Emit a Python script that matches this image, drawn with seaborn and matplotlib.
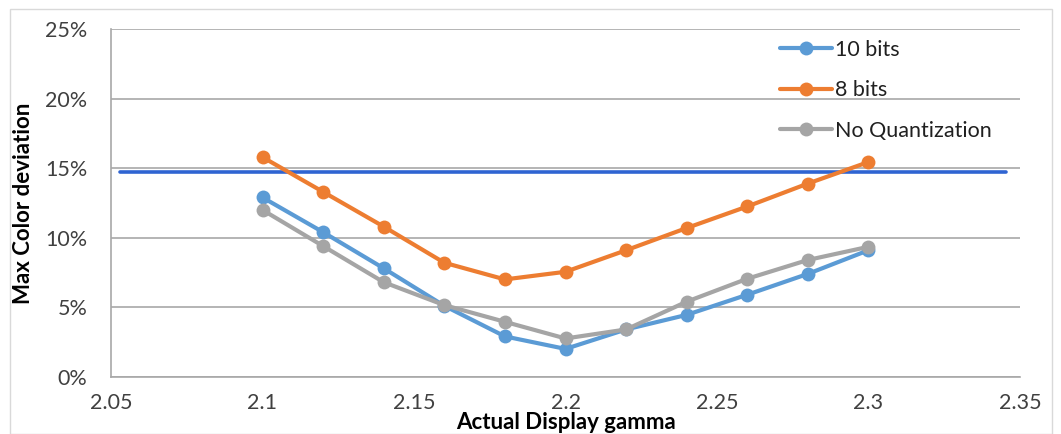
import matplotlib
matplotlib.use("Agg")
import matplotlib.pyplot as plt
import matplotlib.ticker as mticker
from matplotlib.patches import Rectangle
import seaborn as sns
import pandas as pd

gamma = [2.10, 2.12, 2.14, 2.16, 2.18, 2.20, 2.22, 2.24, 2.26, 2.28, 2.30]
bits10 = [12.9, 10.4, 7.8, 5.1, 2.9, 2.0, 3.4, 4.45, 5.9, 7.4, 9.1]
bits8 = [15.8, 13.3, 10.8, 8.2, 7.0, 7.55, 9.1, 10.7, 12.25, 13.9, 15.45]
noquant = [12.0, 9.4, 6.8, 5.15, 3.95, 2.75, 3.4, 5.4, 7.05, 8.4, 9.35]
series_names = ["10 bits", "8 bits", "No Quantization"]
threshold = 14.75
x_ticks = [2.05, 2.1, 2.15, 2.2, 2.25, 2.3, 2.35]
y_ticks = [0, 5, 10, 15, 20, 25]

df = pd.concat([
    pd.DataFrame({"gamma": gamma, "dev": vals, "series": name})
    for name, vals in zip(series_names, [bits10, bits8, noquant])
])

sns.set_style("white")
plt.rcParams["font.family"] = ["Lato", "DejaVu Sans"]

fig = plt.figure(figsize=(10.61, 4.34), dpi=100)
ax = fig.add_axes([111 / 1061, 1 - 376.7 / 434, (1020 - 111) / 1061, (376.7 - 29.3) / 434])

palette = {"10 bits": "#5B9BD5", "8 bits": "#ED7D31", "No Quantization": "#A5A5A5"}

ax.axhline(threshold, xmin=0.01, xmax=0.985, color="#2F64D2", lw=2.6, zorder=1)

sns.lineplot(data=df, x="gamma", y="dev", hue="series", palette=palette,
             marker="o", markersize=10, markeredgewidth=0, linewidth=3,
             ax=ax, zorder=3, sort=False)

ax.set_xlim(2.05, 2.35)
ax.set_ylim(0, 25)
ax.set_xticks(x_ticks)
ax.set_xticklabels([f"{v:g}" for v in x_ticks])
ax.set_yticks(y_ticks)
ax.yaxis.set_major_formatter(mticker.FuncFormatter(lambda v, p: f"{v:.0f}%"))
ax.yaxis.grid(True, color="#A8A8A8", lw=1.2)
ax.set_axisbelow(True)
for s in ["top", "right"]:
    ax.spines[s].set_visible(False)
for s in ["left", "bottom"]:
    ax.spines[s].set_color("#A8A8A8")
    ax.spines[s].set_linewidth(1.2)
ax.tick_params(axis="both", which="major", direction="out", length=5, width=1.2,
               color="#A8A8A8", labelsize=15.5, labelcolor="#404040")
ax.tick_params(axis="x", pad=7)
ax.tick_params(axis="y", pad=12)

ax.set_xlabel("Actual Display gamma", fontsize=16, fontweight="bold", color="black", labelpad=-1)
ax.set_ylabel("Max Color deviation", fontsize=16, fontweight="bold", color="black", labelpad=8)

leg = ax.legend(loc="upper left", bbox_to_anchor=(0.715, 1.025), frameon=False,
                fontsize=15.5, handlelength=2.4, handletextpad=0.15, labelspacing=0.95,
                markerscale=1.0)
for t in leg.get_texts():
    t.set_color("#202020")

fig.patches.append(Rectangle((10 / 1061, 0), 1042 / 1061, 1 - 9 / 434,
                             transform=fig.transFigure, fill=False,
                             edgecolor="#D9D9D9", lw=1))

fig.savefig("out.png", dpi=100, facecolor="white")
